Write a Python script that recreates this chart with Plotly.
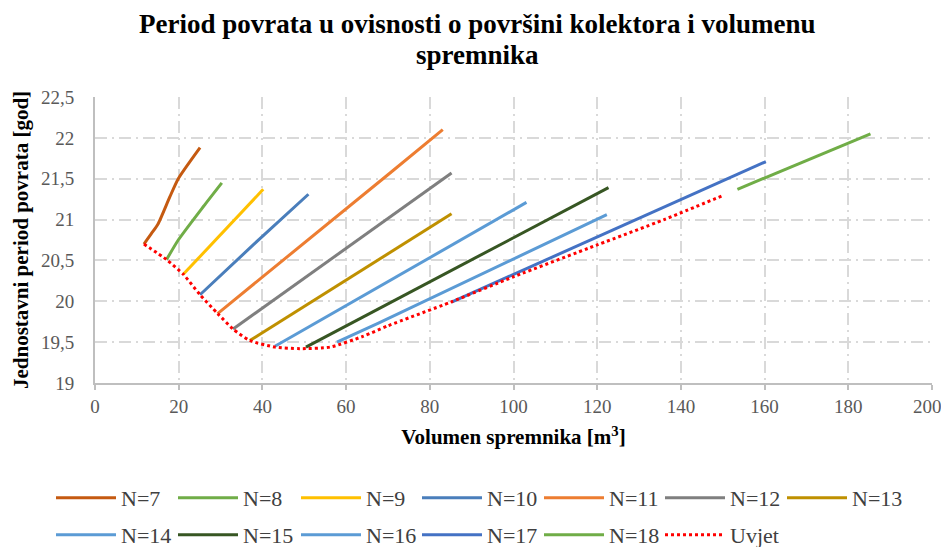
import plotly.graph_objects as go

# ---- data ----
series_names = ["N=7", "N=8", "N=9", "N=10", "N=11", "N=12", "N=13",
                "N=14", "N=15", "N=16", "N=17", "N=18"]

n7_x = [11.7, 13.5, 15.1, 17.9, 19.9, 25.1]
n7_y = [20.70, 20.83, 20.95, 21.28, 21.50, 21.88]
n8_x = [17.1, 19.9, 25.9, 30.3]
n8_y = [20.51, 20.75, 21.16, 21.45]
n9_x = [21.1, 40.2]
n9_y = [20.33, 21.37]
n10_x = [25.1, 37.8, 51.0]
n10_y = [20.08, 20.69, 21.31]
n11_x = [29.3, 70.5, 83.1]
n11_y = [19.85, 21.57, 22.10]
n12_x = [33.0, 85.2]
n12_y = [19.66, 21.57]
n13_x = [37.0, 85.2]
n13_y = [19.52, 21.07]
n14_x = [43.0, 103.1]
n14_y = [19.45, 21.21]
n15_x = [50.4, 122.7]
n15_y = [19.44, 21.39]
n16_x = [57.8, 67.6, 122.3]
n16_y = [19.50, 19.73, 21.06]
n17_x = [85.2, 160.3]
n17_y = [19.99, 21.71]
n18_x = [153.5, 185.3]
n18_y = [21.37, 22.05]

uvjet_x = [11.7, 17.1, 21.1, 25.1, 29.3, 33.0, 37.0, 43.0, 49.0, 56.2, 64.0,
           70.0, 85.0, 100.0, 120.0, 136.0, 150.3]
uvjet_y = [20.70, 20.51, 20.33, 20.08, 19.85, 19.66, 19.52, 19.44, 19.42, 19.44,
           19.57, 19.70, 19.99, 20.30, 20.69, 21.00, 21.30]

xs = [n7_x, n8_x, n9_x, n10_x, n11_x, n12_x, n13_x, n14_x, n15_x, n16_x, n17_x, n18_x]
ys = [n7_y, n8_y, n9_y, n10_y, n11_y, n12_y, n13_y, n14_y, n15_y, n16_y, n17_y, n18_y]
colors = ["#C55A11", "#70AD47", "#FFC000", "#4A7EBB", "#ED7D31", "#7F7F7F",
          "#BF9000", "#5B9BD5", "#375623", "#5B9BD5", "#4472C4", "#70AD47"]

y_ticks = [19, 19.5, 20, 20.5, 21, 21.5, 22, 22.5]
y_tick_text = ["19", "19,5", "20", "20,5", "21", "21,5", "22", "22,5"]
x_ticks = [0, 20, 40, 60, 80, 100, 120, 140, 160, 180, 200]
x_tick_text = ["0", "20", "40", "60", "80", "100", "120", "140", "160", "180",
               "200\u00a0\u00a0"]

title_line1 = "Period povrata u ovisnosti o površini kolektora i volumenu"
title_line2 = "spremnika"

FONT = "Liberation Serif"
W, H = 941, 539          # page body adds an 8px offset
OFF = 8

# legend item layout (screen pixels): line-sample start x, row centre y
leg_x = [58, 180, 303, 424, 546, 667, 789, 58, 180, 303, 424, 546, 667]
leg_y = [498] * 7 + [535] * 6

fig = go.Figure()
for i, (name, x, y, c) in enumerate(zip(series_names, xs, ys, colors)):
    fig.add_trace(go.Scatter(
        x=x, y=y, name=name, mode="lines", showlegend=True,
        line=dict(color=c, width=3, shape="spline", smoothing=0.6),
        legend="legend" if i == 0 else f"legend{i + 1}",
    ))
fig.add_trace(go.Scatter(
    x=uvjet_x, y=uvjet_y, name="Uvjet", mode="lines", showlegend=True,
    line=dict(color="#FF0000", width=3, dash="dot", shape="spline", smoothing=0.6),
    legend="legend13",
))

grid = dict(showgrid=True, gridcolor="#D9D9D9", gridwidth=1.5,
            griddash="12px,5px,2px,5px")

legends = {}
for i in range(13):
    key = "legend" if i == 0 else f"legend{i + 1}"
    legends[key] = dict(
        orientation="h", visible=True,
        font=dict(family=FONT, size=22, color="#404040"),
        xref="container", yref="container", xanchor="left", yanchor="middle",
        x=(leg_x[i] - OFF - 7) / W, y=1 - (leg_y[i] - OFF) / H,
        bgcolor="rgba(0,0,0,0)", itemwidth=60,
    )

title_font = dict(family=FONT, size=27, color="#000000")
l_m, t_m = 95 - OFF, 97 - OFF
plot_h = 383 - 97

fig.update_layout(
    width=W, height=H, showlegend=True,
    margin=dict(l=l_m, r=17, t=t_m, b=H - t_m - plot_h),
    plot_bgcolor="white", paper_bgcolor="white",
    font=dict(family=FONT, color="#595959"),
    xaxis=dict(
        range=[0, 200], tickvals=x_ticks, ticktext=x_tick_text, **grid,
        automargin=False, ticklabeloverflow="allow",
        showline=True, linecolor="#BFBFBF", linewidth=2,
        ticks="outside", ticklen=5, tickcolor="#BFBFBF", tickwidth=2,
        tickfont=dict(family=FONT, size=19, color="#595959"),
        title=dict(text="<b>Volumen spremnika [m<sup>3</sup>]</b>",
                   font=dict(family=FONT, size=21, color="#000000"), standoff=14),
        zeroline=False,
    ),
    yaxis=dict(
        range=[19, 22.5], tickvals=y_ticks, ticktext=y_tick_text, **grid,
        automargin=False,
        showline=True, linecolor="#BFBFBF", linewidth=2,
        ticks="", ticklabelstandoff=15,
        tickfont=dict(family=FONT, size=19, color="#595959"),
        title=dict(text="<b>Jednostavni period povrata [god]</b>",
                   font=dict(family=FONT, size=21, color="#000000"), standoff=7),
        zeroline=False,
    ),
    annotations=[
        dict(text="<b>" + title_line1 + "</b>", xref="paper", yref="paper",
             x=(477 - 95) / 837, y=(383 - 24) / plot_h, xanchor="center",
             yanchor="middle", showarrow=False, font=title_font),
        dict(text="<b>" + title_line2 + "</b>", xref="paper", yref="paper",
             x=(477 - 95) / 837, y=(383 - 55) / plot_h, xanchor="center",
             yanchor="middle", showarrow=False, font=title_font),
    ],
    **legends,
)

fig.write_html("out.html")
